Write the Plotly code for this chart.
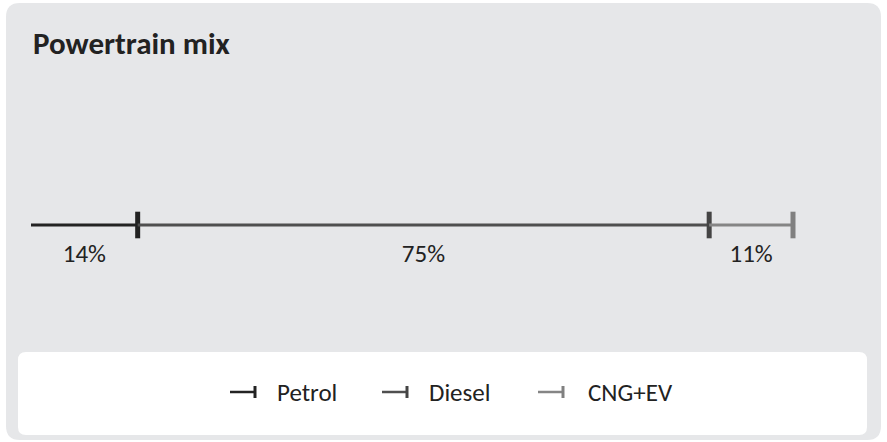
import plotly.graph_objects as go

# --- DATA ---
SERIES = ["Petrol", "Diesel", "CNG+EV"]
SHARES = [14, 75, 11]
LABELS = ["14%", "75%", "11%"]

# --- STYLE ---
W, H = 887, 442
FONT = "Carlito, Calibri, Lato, sans-serif"
CARD_BG = "#e6e7e9"
TEXT = "#222222"
COLORS = ["#232323", "#4f4f4f", "#858585"]
TICK_COLORS = ["#222222", "#444444", "#808080"]

# axis mapping: 0% at px 31, 100% at px 793 (plot area = whole figure)
PX0, PX100 = 31, 793
scale = (PX100 - PX0) / 100.0
x_range = [-PX0 / scale, (W - PX0) / scale]
LINE_Y = 225
y_range = [-(H - LINE_Y), LINE_Y]   # y axis in pixels, 0 = the line


def rounded_rect(x0, y0, x1, y1, r):
    # pixel coords (top-left origin) -> paper path with quadratic corners
    def p(x, y):
        return f"{x / W:.5f},{1 - y / H:.5f}"
    return (f"M{p(x0 + r, y0)} L{p(x1 - r, y0)} Q{p(x1, y0)} {p(x1, y0 + r)} "
            f"L{p(x1, y1 - r)} Q{p(x1, y1)} {p(x1 - r, y1)} "
            f"L{p(x0 + r, y1)} Q{p(x0, y1)} {p(x0, y1 - r)} "
            f"L{p(x0, y0 + r)} Q{p(x0, y0)} {p(x0 + r, y0)} Z")


fig = go.Figure()

starts = []
acc = 0
for v in SHARES:
    starts.append(acc)
    acc += v

for name, s, v, c, tc in zip(SERIES, starts, SHARES, COLORS, TICK_COLORS):
    fig.add_trace(go.Scatter(
        x=[s, s + v], y=[0, 0], mode="lines", name=name,
        line=dict(color=c, width=3), showlegend=False, hoverinfo="skip"))
    fig.add_trace(go.Scatter(
        x=[s + v], y=[0], mode="markers", showlegend=False,
        marker=dict(symbol="line-ns", size=19, line=dict(color=tc, width=5)),
        hovertemplate=f"{name}: {v}%<extra></extra>"))

# value labels under each segment
fig.add_trace(go.Scatter(
    x=[s + v / 2 for s, v in zip(starts, SHARES)], y=[-31] * len(SHARES),
    mode="text", text=LABELS, showlegend=False, hoverinfo="skip",
    textfont=dict(family=FONT, size=25, color=TEXT)))

shapes = [
    dict(type="path", xref="paper", yref="paper", path=rounded_rect(6, 3, 881, 440, 14),
         fillcolor=CARD_BG, line=dict(width=0), layer="below"),
    dict(type="path", xref="paper", yref="paper", path=rounded_rect(18, 352, 867, 435, 8),
         fillcolor="white", line=dict(width=0), layer="below"),
]
annotations = []

# custom legend (line with end tick, as in the source)
LEG_Y = 392
leg_sym_x = [230, 382, 538]
leg_txt_x = [275, 427, 586]
for name, c, tc, sx, tx in zip(SERIES, COLORS, TICK_COLORS, leg_sym_x, leg_txt_x):
    yy = 1 - LEG_Y / H
    shapes.append(dict(type="line", xref="paper", yref="paper",
                       x0=sx / W, x1=(sx + 26) / W, y0=yy, y1=yy,
                       line=dict(color=c, width=2.5)))
    shapes.append(dict(type="line", xref="paper", yref="paper",
                       x0=(sx + 25) / W, x1=(sx + 25) / W,
                       y0=1 - (LEG_Y - 6) / H, y1=1 - (LEG_Y + 6) / H,
                       line=dict(color=tc, width=3)))
    annotations.append(dict(xref="paper", yref="paper", x=tx / W, y=yy,
                            xanchor="left", yanchor="middle", showarrow=False,
                            text=name, font=dict(family=FONT, size=25, color=TEXT)))

annotations.append(dict(xref="paper", yref="paper", x=31 / W, y=1 - 43 / H,
                        xanchor="left", yanchor="middle", showarrow=False,
                        text="<b>Powertrain mix</b>",
                        font=dict(family=FONT, size=31, color=TEXT)))

fig.update_layout(
    width=W, height=H, margin=dict(l=0, r=0, t=0, b=0),
    paper_bgcolor="white", plot_bgcolor="rgba(0,0,0,0)",
    xaxis=dict(range=x_range, visible=False, fixedrange=True),
    yaxis=dict(range=y_range, visible=False, fixedrange=True),
    shapes=shapes, annotations=annotations, showlegend=False,
    font=dict(family=FONT, color=TEXT),
)

# drop the default 8px page margin so the figure sits at the window origin
fig.write_html("out.html", config={"displayModeBar": False},
               post_script="document.body.style.margin='0px';")
